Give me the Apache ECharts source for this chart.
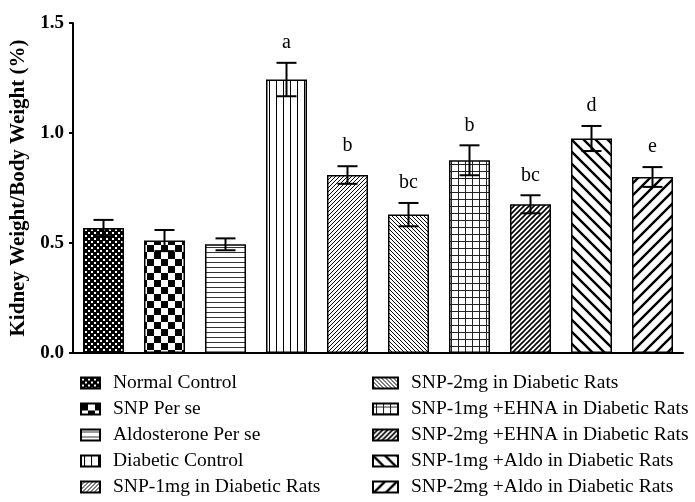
<!DOCTYPE html>
<html>
<head>
<meta charset="utf-8">
<script src="https://cdn.jsdelivr.net/npm/echarts@6/dist/echarts.min.js"></script>
<style>
  html, body { margin: 0; padding: 0; background: #fff; }
  #main { width: 695px; height: 502px; }
</style>
</head>
<body>
<div id="main"></div>
<script>
// groups, means and SEM
const groups = [
  'Normal Control',
  'SNP Per se',
  'Aldosterone Per se',
  'Diabetic Control',
  'SNP-1mg in Diabetic Rats',
  'SNP-2mg in Diabetic Rats',
  'SNP-1mg +EHNA in Diabetic Rats',
  'SNP-2mg +EHNA in Diabetic Rats',
  'SNP-1mg +Aldo in Diabetic Rats',
  'SNP-2mg +Aldo in Diabetic Rats'
]
const means = [0.568, 0.511, 0.494, 1.243, 0.809, 0.629, 0.876, 0.676, 0.975, 0.800]
const sems = [0.037, 0.048, 0.027, 0.076, 0.040, 0.053, 0.068, 0.041, 0.057, 0.045]
const letters = ['', '', '', 'a', 'b', 'bc', 'b', 'bc', 'd', 'e']
const yTicks = [0, 0.5, 1.0, 1.5]

const FONT = 'Liberation Serif'

// hatch fills
function tile(size, draw) {
  const c = document.createElement('canvas')
  c.width = size
  c.height = size
  const ctx = c.getContext('2d')
  ctx.fillStyle = '#fff'
  ctx.fillRect(0, 0, size, size)
  ctx.fillStyle = '#000'
  ctx.strokeStyle = '#000'
  draw(ctx, size)
  return { image: c, repeat: 'repeat' }
}

function diag(size, width, up) {
  return tile(size, (ctx, s) => {
    ctx.lineWidth = width
    ctx.beginPath()
    if (up) {
      ctx.moveTo(0, s); ctx.lineTo(s, 0)
      ctx.moveTo(-1, 1); ctx.lineTo(1, -1)
      ctx.moveTo(s - 1, s + 1); ctx.lineTo(s + 1, s - 1)
    } else {
      ctx.moveTo(0, 0); ctx.lineTo(s, s)
      ctx.moveTo(-1, s - 1); ctx.lineTo(1, s + 1)
      ctx.moveTo(s - 1, -1); ctx.lineTo(s + 1, 1)
    }
    ctx.stroke()
  })
}

const fills = [
  tile(6, (ctx, s) => {
    ctx.fillRect(0, 0, s, s)
    ctx.fillStyle = '#fff'
    ctx.fillRect(1, 1, 2, 2)
    ctx.fillRect(4, 4, 2, 2)
  }),
  tile(14, (ctx, s) => {
    ctx.fillRect(0, 0, 7, 7)
    ctx.fillRect(7, 7, 7, 7)
  }),
  tile(5, (ctx, s) => {
    ctx.fillStyle = '#333'
    ctx.fillRect(0, 2, s, 1)
  }),
  tile(7, (ctx, s) => {
    ctx.fillRect(3, 0, 1, s)
  }),
  diag(4, 1, true),
  diag(4, 1, false),
  tile(7, (ctx, s) => {
    ctx.fillStyle = '#222'
    ctx.fillRect(3, 0, 1, s)
    ctx.fillRect(0, 3, s, 1)
  }),
  diag(5, 1.6, true),
  diag(12, 2.4, false),
  diag(12, 2.4, true)
]

const series = groups.map((name, i) => ({
  name: name,
  type: 'bar',
  barWidth: 41,
  barGap: '-100%',
  itemStyle: {
    color: fills[i],
    borderColor: '#000',
    borderWidth: 1.5
  },
  data: means.map((v, j) => (j === i ? v : '-'))
}))

series.push({
  name: 'sem',
  type: 'custom',
  z: 10,
  data: means.map((m, i) => [i, m, sems[i], letters[i]]),
  renderItem(params, api) {
    const i = api.value(0)
    const m = api.value(1)
    const s = api.value(2)
    const top = api.coord([i, m + s])
    const bot = api.coord([i, m - s])
    const half = 10
    const style = { stroke: '#000', lineWidth: 2 }
    return {
      type: 'group',
      children: [
        { type: 'line', shape: { x1: top[0], y1: top[1], x2: bot[0], y2: bot[1] }, style },
        { type: 'line', shape: { x1: top[0] - half, y1: top[1], x2: top[0] + half, y2: top[1] }, style },
        { type: 'line', shape: { x1: bot[0] - half, y1: bot[1], x2: bot[0] + half, y2: bot[1] }, style },
        {
          type: 'text',
          x: top[0],
          y: top[1] - 20,
          style: {
            text: letters[i],
            fill: '#000',
            font: '20px "' + FONT + '"',
            align: 'center',
            verticalAlign: 'middle'
          }
        }
      ]
    }
  }
})

const legendText = {
  color: '#000',
  fontFamily: FONT,
  fontSize: 19.5,
  lineHeight: 20,
  padding: [0, 0, 0, 8]
}

const option = {
  animation: false,
  textStyle: { fontFamily: FONT },
  grid: { left: 73, right: 12, top: 23, bottom: 149 },
  legend: [
    {
      data: groups.slice(0, 5),
      orient: 'vertical',
      left: 80,
      top: 373,
      padding: 0,
      icon: 'rect',
      itemWidth: 19,
      itemHeight: 11,
      itemGap: 6,
      selectedMode: false,
      textStyle: legendText
    },
    {
      data: groups.slice(5),
      orient: 'vertical',
      left: 372,
      top: 373,
      padding: 0,
      icon: 'rect',
      itemWidth: 25,
      itemHeight: 11,
      itemGap: 6,
      selectedMode: false,
      textStyle: legendText
    }
  ],
  xAxis: {
    type: 'category',
    data: groups,
    axisLine: { lineStyle: { color: '#000', width: 2 } },
    axisTick: { alignWithLabel: true, length: 5, lineStyle: { color: '#000', width: 2 } },
    axisLabel: { show: false }
  },
  yAxis: {
    type: 'value',
    min: yTicks[0],
    max: yTicks[yTicks.length - 1],
    interval: 0.5,
    name: 'Kidney Weight/Body Weight (%)',
    nameLocation: 'middle',
    nameGap: 41,
    nameTextStyle: { color: '#000', fontFamily: FONT, fontSize: 21, fontWeight: 'bold' },
    axisLine: { show: true, lineStyle: { color: '#000', width: 2 } },
    axisTick: { show: true, length: 4, lineStyle: { color: '#000', width: 2 } },
    splitLine: { show: false },
    axisLabel: {
      color: '#000',
      fontFamily: FONT,
      fontSize: 19,
      fontWeight: 'bold',
      margin: 9,
      formatter: (v) => v.toFixed(1)
    }
  },
  series: series
}

const chart = echarts.init(document.getElementById('main'))
chart.setOption(option)
</script>
</body>
</html>
